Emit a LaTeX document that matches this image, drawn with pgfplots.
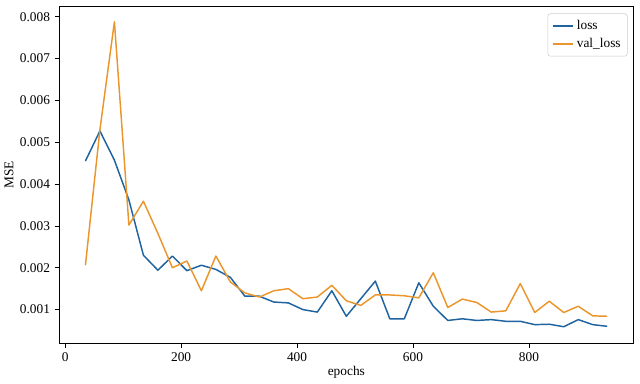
\documentclass[border=0pt]{standalone}
\usepackage{fontspec}
\setmainfont{Liberation Serif}
\usepackage{pgfplots}
\pgfplotsset{compat=1.18}
\usepackage{pgfplotstable}
\definecolor{tabblue}{RGB}{31,100,160}
\definecolor{taborange}{RGB}{234,150,45}
\pgfplotstableread{
ep loss val
35 0.00455 0.00206
60 0.00527 0.00530
85 0.00457 0.00788
110 0.00362 0.00302
135 0.00230 0.00359
160 0.00194 0.00282
185 0.00228 0.00200
210 0.00193 0.00216
235 0.00206 0.00145
260 0.00196 0.00228
285 0.00177 0.00166
310 0.00132 0.00140
335 0.00132 0.00130
360 0.00118 0.00145
385 0.00116 0.00150
410 0.00100 0.00126
435 0.00094 0.00130
460 0.00145 0.00158
485 0.00084 0.00121
510 0.00126 0.00110
535 0.00168 0.00135
560 0.00078 0.00135
585 0.00078 0.00133
610 0.00164 0.00128
635 0.00108 0.00188
660 0.00074 0.00105
685 0.00078 0.00125
710 0.00074 0.00117
735 0.00076 0.00094
760 0.00072 0.00097
785 0.00072 0.00162
810 0.00064 0.00093
835 0.00065 0.00120
860 0.00059 0.00093
885 0.00076 0.00108
910 0.00064 0.00085
935 0.00060 0.00084
}\datatable
\begin{document}
\begin{tikzpicture}
\begin{axis}[
  scale only axis,
  width=430pt, height=252pt,
  xmin=-10, xmax=980,
  ymin=0.0002, ymax=0.00824,
  xtick={0,200,400,600,800},
  ytick={0.001,0.002,0.003,0.004,0.005,0.006,0.007,0.008},
  scaled y ticks=false,
  yticklabel style={/pgf/number format/fixed,/pgf/number format/precision=3,/pgf/number format/zerofill},
  /pgf/number format/assume math mode=true,
  tick align=outside,
  xtick pos=bottom, ytick pos=left,
  major tick length=3.5pt,
  tick style={black, line width=0.6pt},
  axis line style={line width=0.6pt},
  ticklabel style={font=\fontsize{10}{12}\selectfont},
  xlabel={epochs}, ylabel={MSE},
  label style={font=\fontsize{10}{12}\selectfont},
  xlabel style={yshift=3pt},
  ylabel style={yshift=-2pt},
  legend style={at={(0.99,0.98)}, anchor=north east, draw=black!20, rounded corners=2pt,
    font=\fontsize{10}{12}\selectfont, row sep=1pt, inner sep=3pt},
  legend cell align=left,
  legend image post style={line width=1.1pt},
  legend image code/.code={\draw[#1] (0cm,0cm) -- (0.55cm,0cm);},
]
\addplot[tabblue, line width=1.1pt, line join=round] table[x=ep, y=loss] {\datatable};
\addlegendentry{loss}
\addplot[taborange, line width=1.1pt, line join=round] table[x=ep, y=val] {\datatable};
\addlegendentry{val\_loss}
\end{axis}
\path (current axis.south west) ++(-44pt,-28pt) (current axis.north east) ++(5pt,5pt);
\end{tikzpicture}
\end{document}
